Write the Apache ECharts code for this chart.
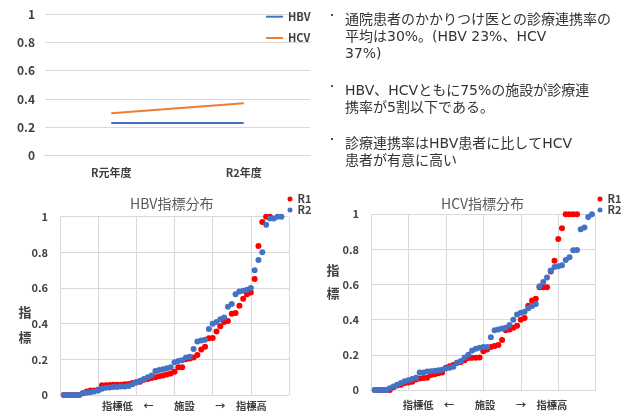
<!DOCTYPE html>
<html>
<head>
<meta charset="utf-8">
<script src="https://cdn.jsdelivr.net/npm/echarts@6/dist/echarts.min.js"></script>
<style>
  html, body { margin: 0; padding: 0; background: #fff; }
  #chart { width: 633px; height: 411px; }
</style>
</head>
<body>
<div id="chart"></div>
<script>
// Average collaboration rate per fiscal year
const years = ['R元年度', 'R2年度'];
const hbvRate = [0.23, 0.23];
const hcvRate = [0.30, 0.37];

// Per-facility index, sorted ascending (R1 / R2)
const hbvR1 = [0, 0, 0, 0, 0, 0.01, 0.02, 0.025, 0.025, 0.03,
  0.055, 0.055, 0.056, 0.057, 0.058, 0.058, 0.06, 0.062, 0.068, 0.072,
  0.075, 0.085, 0.09, 0.095, 0.10, 0.105, 0.11, 0.115, 0.12, 0.13,
  0.155, 0.155, 0.20, 0.205, 0.21, 0.225, 0.255, 0.27, 0.318, 0.32,
  0.356, 0.385, 0.41, 0.415, 0.455, 0.46, 0.50, 0.54, 0.565, 0.575,
  0.65, 0.835, 0.97, 1.0, 1.0];
const hbvR2 = [0, 0, 0, 0, 0, 0.01, 0.012, 0.015, 0.02, 0.025,
  0.035, 0.04, 0.042, 0.045, 0.045, 0.047, 0.048, 0.05, 0.06, 0.07,
  0.08, 0.09, 0.10, 0.11, 0.135, 0.14, 0.145, 0.15, 0.155, 0.183,
  0.19, 0.195, 0.21, 0.215, 0.258, 0.30, 0.305, 0.31, 0.37, 0.40,
  0.41, 0.425, 0.435, 0.495, 0.51, 0.565, 0.58, 0.585, 0.59, 0.60,
  0.70, 0.757, 0.80, 0.955, 0.99, 0.99, 1.0, 1.0];
const hcvR1 = [0, 0, 0, 0, 0, 0.015, 0.025, 0.03, 0.04, 0.042,
  0.047, 0.06, 0.065, 0.068, 0.07, 0.085, 0.09, 0.095, 0.10, 0.127,
  0.135, 0.142, 0.155, 0.16, 0.17, 0.182, 0.183, 0.184, 0.185, 0.22,
  0.23, 0.245, 0.25, 0.256, 0.285, 0.34, 0.345, 0.355, 0.365, 0.40,
  0.41, 0.48, 0.51, 0.52, 0.585, 0.585, 0.585, 0.675, 0.735, 0.86,
  0.92, 1.0, 1.0, 1.0, 1.0];
const hcvR2 = [0, 0, 0, 0, 0.01, 0.02, 0.03, 0.04, 0.05, 0.055,
  0.063, 0.07, 0.10, 0.10, 0.105, 0.107, 0.11, 0.112, 0.115, 0.123,
  0.127, 0.133, 0.155, 0.165, 0.185, 0.20, 0.225, 0.235, 0.24, 0.245,
  0.245, 0.30, 0.34, 0.345, 0.35, 0.355, 0.37, 0.40, 0.43, 0.44,
  0.445, 0.465, 0.478, 0.49, 0.59, 0.615, 0.64, 0.68, 0.70, 0.705,
  0.71, 0.74, 0.755, 0.795, 0.797, 0.915, 0.925, 0.985, 1.0];

const titles = ['HBV指標分布', 'HCV指標分布'];
const yName = ['指', '標'];
const xName = '指標低　←　　施設　　→　指標高';

const notes = [
  ['通院患者のかかりつけ医との診療連携率の', '平均は30%。(HBV 23%、HCV', '37%)'],
  ['HBV、HCVともに75%の施設が診療連', '携率が5割以下である。'],
  ['診療連携率はHBV患者に比してHCV', '患者が有意に高い']
];

const FONT = "'Noto Sans CJK JP', 'Noto Sans', sans-serif";
const NOTE_FONT = "'DejaVu Sans', 'Noto Sans CJK JP', sans-serif";
const GRID_C = '#d9d9d9';
const LABEL_C = '#404040';
const BLUE = '#4472C4', ORANGE = '#ED7D31', RED = '#FF0000';
const DOT = 6;

const toPoints = arr => arr.map((v, i) => [i + 1, v]);

const chart = echarts.init(document.getElementById('chart'), null, { renderer: 'canvas' });

const boldLabel = (size, margin) => ({
  fontFamily: FONT, fontWeight: 'bold', fontSize: size, color: LABEL_C, margin: margin
});

const scatterX = idx => ({
  type: 'value', gridIndex: idx, min: 0, max: 60, interval: 10,
  axisLabel: { show: false }, axisTick: { show: false },
  axisLine: { show: true, lineStyle: { color: GRID_C, width: 1 } },
  splitLine: { show: true, lineStyle: { color: GRID_C, width: 1 } }
});
const scatterY = idx => ({
  type: 'value', gridIndex: idx, min: 0, max: 1, interval: 0.2,
  axisLabel: boldLabel(11, 12), axisTick: { show: false },
  axisLine: { show: true, lineStyle: { color: GRID_C, width: 1 } },
  splitLine: { show: true, lineStyle: { color: GRID_C, width: 1 } }
});

// graphic: side notes, chart titles and axis captions
const graphics = [];
const lineH = 17;
const paraTop = [20.5, 91, 144];
notes.forEach((lines, p) => {
  graphics.push({
    type: 'text', x: 332, y: paraTop[p] - 5,
    style: { text: '・', fontFamily: FONT, fontSize: 10, fill: '#333', align: 'center', verticalAlign: 'middle' }
  });
  lines.forEach((t, k) => {
    graphics.push({
      type: 'text', x: 345, y: paraTop[p] + k * lineH,
      style: { text: t, fontFamily: NOTE_FONT, fontSize: 14, fill: '#333', align: 'left', verticalAlign: 'middle' }
    });
  });
});
[[171.7, 204], [482.5, 204]].forEach((pos, i) => {
  graphics.push({
    type: 'text', x: pos[0], y: pos[1],
    style: { text: titles[i], fontFamily: FONT, fontSize: 14, fill: '#595959', align: 'center', verticalAlign: 'middle' }
  });
});
[[25, 312, 337], [333, 270, 293]].forEach(p => {
  yName.forEach((ch, k) => {
    graphics.push({
      type: 'text', x: p[0], y: p[1 + k],
      style: { text: ch, fontFamily: FONT, fontSize: 13, fontWeight: 'bold', fill: LABEL_C, align: 'center', verticalAlign: 'middle' }
    });
  });
});
[[184.4, 406.5], [485, 405]].forEach(p => {
  graphics.push({
    type: 'text', x: p[0], y: p[1],
    style: { text: xName, fontFamily: FONT, fontSize: 10.3, fontWeight: 'bold', fill: LABEL_C, align: 'center', verticalAlign: 'middle' }
  });
});

const option = {
  animation: false,
  backgroundColor: '#fff',
  grid: [
    { left: 45, top: 14, width: 265, height: 141.7 },
    { left: 60, top: 216.7, width: 229, height: 178.3 },
    { left: 371, top: 214.3, width: 224.7, height: 175.7 }
  ],
  xAxis: [
    {
      type: 'category', gridIndex: 0, data: years, boundaryGap: true,
      axisTick: { show: false },
      axisLine: { show: true, lineStyle: { color: GRID_C } },
      axisLabel: boldLabel(11, 12)
    },
    scatterX(1),
    scatterX(2)
  ],
  yAxis: [
    {
      type: 'value', gridIndex: 0, min: 0, max: 1, interval: 0.2,
      axisLine: { show: false }, axisTick: { show: false },
      splitLine: { lineStyle: { color: GRID_C, width: 1 } },
      axisLabel: boldLabel(12, 10)
    },
    scatterY(1),
    scatterY(2)
  ],
  legend: [
    {
      data: ['HBV', 'HCV'], orient: 'vertical', left: 266, top: 10.2,
      padding: 0, itemGap: 8.3, itemWidth: 17, itemHeight: 2, icon: 'rect',
      textStyle: { fontFamily: FONT, fontWeight: 'bold', fontSize: 11, color: LABEL_C, lineHeight: 13 }
    },
    {
      data: ['R1', 'R2'], orient: 'vertical', left: 287.5, top: 193.5,
      padding: 0, itemGap: 0, itemWidth: 5, itemHeight: 5, icon: 'circle',
      textStyle: { fontFamily: FONT, fontWeight: 'bold', fontSize: 11, color: LABEL_C, lineHeight: 11 }
    },
    {
      data: ['R1', 'R2'], orient: 'vertical', left: 597.5, top: 193.5,
      padding: 0, itemGap: 0, itemWidth: 5, itemHeight: 5, icon: 'circle',
      textStyle: { fontFamily: FONT, fontWeight: 'bold', fontSize: 11, color: LABEL_C, lineHeight: 11 }
    }
  ],
  series: [
    { name: 'HBV', type: 'line', xAxisIndex: 0, yAxisIndex: 0, data: hbvRate,
      symbol: 'none', lineStyle: { color: BLUE, width: 2 }, itemStyle: { color: BLUE } },
    { name: 'HCV', type: 'line', xAxisIndex: 0, yAxisIndex: 0, data: hcvRate,
      symbol: 'none', lineStyle: { color: ORANGE, width: 2 }, itemStyle: { color: ORANGE } },
    { name: 'R1', type: 'scatter', xAxisIndex: 1, yAxisIndex: 1, data: toPoints(hbvR1),
      symbolSize: DOT, itemStyle: { color: RED, opacity: 1 } },
    { name: 'R2', type: 'scatter', xAxisIndex: 1, yAxisIndex: 1, data: toPoints(hbvR2),
      symbolSize: DOT, itemStyle: { color: BLUE, opacity: 1 } },
    { name: 'R1', type: 'scatter', xAxisIndex: 2, yAxisIndex: 2, data: toPoints(hcvR1),
      symbolSize: DOT, itemStyle: { color: RED, opacity: 1 } },
    { name: 'R2', type: 'scatter', xAxisIndex: 2, yAxisIndex: 2, data: toPoints(hcvR2),
      symbolSize: DOT, itemStyle: { color: BLUE, opacity: 1 } }
  ],
  graphic: graphics
};

chart.setOption(option);
</script>
</body>
</html>
